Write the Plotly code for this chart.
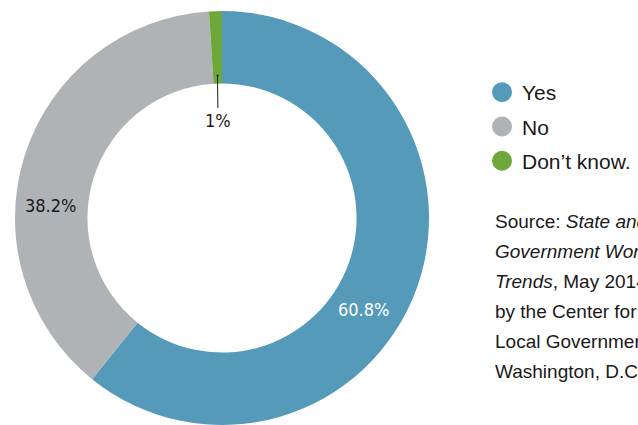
import math
import plotly.graph_objects as go

# ---- data ----
labels = ["Yes", "No", "Don’t know."]
values = [60.8, 38.2, 1.0]
colors = ["#559BB9", "#B0B3B5", "#6EA83A"]
value_labels = ["60.8%", "38.2%", "1%"]
value_label_colors = ["#FFFFFF", "#1A1A1A", "#1A1A1A"]

source_lines = [
    "Source: <i>State and Local</i>",
    "<i>Government Workforce: 2014</i>",
    "<i>Trends</i>, May 2014, published",
    "by the Center for State and",
    "Local Government Excellence,",
    "Washington, D.C.",
]

# ---- geometry (pixels) ----
W, H = 638, 425
R = 207
CX, CY = 222, H - R
HOLE = 0.65


def paper(px, py):
    return px / W, 1 - py / H


fig = go.Figure()
fig.add_trace(go.Pie(
    labels=labels, values=values, sort=False, direction="clockwise", rotation=0,
    hole=HOLE, marker=dict(colors=colors, line=dict(width=0)),
    textinfo="none", hoverinfo="skip", showlegend=False,
    domain=dict(x=[(CX - R) / W, (CX + R) / W], y=[0, 2 * R / H]),
))

# legend entries with round markers
for i, (lab, col) in enumerate(zip(labels, colors)):
    fig.add_trace(go.Scatter(x=[None], y=[None], mode="markers", name=lab,
                             legendgroup=f"g{i}",
                             marker=dict(size=16, color=col, line=dict(color=col, width=4)),
                             showlegend=True))

label_family = "DejaVu Sans Condensed, Liberation Sans Narrow, sans-serif"
annotations = []

# value labels for the two big slices (placed by polar offset from centre)
label_polar = [(122.8, 168.5), (274.1, 171.5)]
for i in range(2):
    ang, rr = label_polar[i]
    px = CX + rr * math.sin(math.radians(ang))
    py = CY - rr * math.cos(math.radians(ang))
    x, y = paper(px, py)
    annotations.append(dict(x=x, y=y, xref="paper", yref="paper", text=value_labels[i],
                            showarrow=False, xanchor="center", yanchor="middle",
                            font=dict(family=label_family, size=18,
                                      color=value_label_colors[i])))

# small slice: leader line from label to slice middle
total = sum(values)
mid_frac = (sum(values[:2]) + values[2] / 2) / total
ang = 2 * math.pi * mid_frac
tip_r = HOLE * R + 8
tipx = CX + tip_r * math.sin(ang)
tipy = CY - tip_r * math.cos(ang)
tx, ty = paper(tipx, tipy)
annotations.append(dict(x=tx, y=ty, xref="paper", yref="paper", text=value_labels[2],
                        showarrow=True, ax=218 - tipx, ay=120 - tipy,
                        arrowhead=6, arrowsize=0.5, arrowwidth=1, arrowcolor="#1A1A1A",
                        standoff=0, startstandoff=0,
                        font=dict(family=label_family, size=18,
                                  color=value_label_colors[2])))

# source text
for k, line in enumerate(source_lines):
    x, y = paper(493, 221 + 30 * k)
    annotations.append(dict(x=x, y=y, xref="paper", yref="paper", text=line,
                            showarrow=False, xanchor="left", yanchor="middle",
                            font=dict(family="Liberation Sans, Arial, sans-serif", size=19,
                                      color="#1A1A1A")))

lx, ly = paper(482, 72)
fig.update_layout(
    width=W, height=H, margin=dict(l=0, r=0, t=0, b=0),
    paper_bgcolor="white", plot_bgcolor="white",
    xaxis=dict(visible=False), yaxis=dict(visible=False),
    legend=dict(x=lx, y=ly, xanchor="left", yanchor="top", tracegroupgap=4,
                itemsizing="trace", bgcolor="rgba(0,0,0,0)",
                font=dict(family="Liberation Sans, Arial, sans-serif", size=21, color="#1A1A1A")),
    annotations=annotations,
)

fig.write_html("out.html")
